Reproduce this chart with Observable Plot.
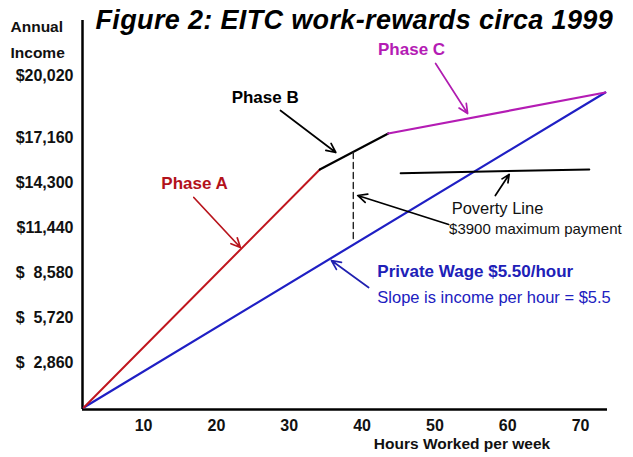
<!DOCTYPE html>
<html>
<head>
<meta charset="utf-8">
<script src="https://cdn.jsdelivr.net/npm/d3@7"></script>
<script src="https://cdn.jsdelivr.net/npm/@observablehq/plot@0.6"></script>
<style>
  html, body { margin: 0; padding: 0; background: #fff; }
  #chart svg text { white-space: pre; }
</style>
</head>
<body>
<div id="chart"></div>
<script>
// ---- Data ----
const titleText = "Figure 2: EITC work-rewards circa 1999";
const yTitleLines = ["Annual", "Income"];
const xTitle = "Hours Worked per week";

const hourTicks = [10, 20, 30, 40, 50, 60, 70];
const incomeTicks = [2860, 5720, 8580, 11440, 14300, 17160];
const incomeTickLabels = ["$ 2,860", "$ 5,720", "$ 8,580", "$11,440", "$14,300", "$17,160"];
const topIncomeTick = [20020];
const topIncomeTickLabel = ["$20,020"];

// series (hours worked per week, annual income)
const phaseAHours = [1.8, 34.2];
const phaseAIncome = [0, 15126];
const phaseBHours = [34.2, 43.6];
const phaseBIncome = [15126, 17414];
const phaseCHours = [43.6, 73.4];
const phaseCIncome = [17414, 20020];
const wageHours = [1.8, 73.4];
const wageIncome = [0, 20020];
const povertyHours = [45.3, 71.2];
const povertyIncome = [14891, 15127];
const maxPaymentHours = [38.8, 38.8];
const maxPaymentIncome = [16207, 10741];

// annotations
const labelNames = ["Phase A", "Phase B", "Phase C", "Poverty Line", "$3900 maximum payment", "Private Wage $5.50/hour", "Slope is income per hour = $5.5"];
const labelHours = [17.0, 26.7, 46.8, 58.6, 63.8, 42.1, 42.1];
const labelIncome = [14237, 19703, 22753, 12648, 11313, 8644, 6991];

const arrowFromHours = [16.9, 28.8, 50.1, 58.3, 51.9, 40.9];
const arrowFromIncome = [13347, 18876, 21864, 13474, 11631, 7627];
const arrowToHours = [23.3, 36.4, 54.5, 60.2, 39.4, 35.8];
const arrowToIncome = [10169, 16207, 18686, 14809, 13474, 9343];
const arrowColors = ["#b8141c", "#000000", "#b01cb0", "#000000", "#000000", "#2020b0"];

// ---- Build tables ----
const toPts = (hs, is) => hs.map((h, i) => ({h, inc: is[i]}));
const labels = labelNames.map((t, i) => ({t, h: labelHours[i], inc: labelIncome[i]}));
const arrows = arrowFromHours.map((h, i) => ({
  x1: h, y1: arrowFromIncome[i], x2: arrowToHours[i], y2: arrowToIncome[i], c: arrowColors[i]
}));
const tickLabelOf = new Map(incomeTicks.map((v, i) => [v, incomeTickLabels[i]]));
const topLabelOf = new Map(topIncomeTick.map((v, i) => [v, topIncomeTickLabel[i]]));

const RED = "#c0161e", BLACK = "#000", MAG = "#b41cb4", BLUE = "#1f1fc4";
const FONT = "'Liberation Sans', Arial, sans-serif";

const chart = Plot.plot({
  width: 633,
  height: 457,
  marginLeft: 82,
  marginRight: 26,
  marginTop: 22,
  marginBottom: 48,
  x: {domain: [1.62, 73.7]},
  y: {domain: [-127, 24469]},
  style: {fontFamily: FONT, background: "#fff", overflow: "visible", color: "#111"},
  marks: [
    // axes frame
    Plot.ruleX([1.62], {y1: -127, y2: 24600, stroke: "#000", strokeWidth: 2.5}),
    Plot.ruleY([-127], {x1: 1.62, x2: 73.7, stroke: "#000", strokeWidth: 2.5}),
    Plot.axisX(hourTicks, {tickSize: 0, tickPadding: 10, fontSize: 16, fontWeight: "bold", label: null, fill: "#111"}),
    Plot.axisY(incomeTicks, {tickSize: 0, tickPadding: 9, fontSize: 16, fontWeight: "bold", label: null, fill: "#111",
      tickFormat: d => tickLabelOf.get(d).replace(" ", "\u2007")}),
    Plot.axisY(topIncomeTick, {tickSize: 0, tickPadding: 9, fontSize: 16, fontWeight: "bold", label: null, fill: "#111",
      dy: -17, tickFormat: d => topLabelOf.get(d)}),
    // titles
    Plot.text([titleText], {frameAnchor: "top-left", textAnchor: "start", lineAnchor: "middle", dx: 13, dy: -2,
      fontSize: 27, fontWeight: "bold", fontStyle: "italic", fill: "#000"}),
    Plot.text([yTitleLines[0]], {frameAnchor: "top-left", textAnchor: "start", lineAnchor: "middle", dx: -72, dy: 5,
      fontSize: 15.5, fontWeight: "bold", fill: "#111"}),
    Plot.text([yTitleLines[1]], {frameAnchor: "top-left", textAnchor: "start", lineAnchor: "middle", dx: -72, dy: 31,
      fontSize: 15.5, fontWeight: "bold", fill: "#111"}),
    Plot.text([xTitle], {frameAnchor: "bottom", textAnchor: "middle", lineAnchor: "middle", dx: 117, dy: 35,
      fontSize: 15.5, fontWeight: "bold", fill: "#111"}),
    // series
    Plot.line(toPts(wageHours, wageIncome), {x: "h", y: "inc", stroke: BLUE, strokeWidth: 2.2}),
    Plot.line(toPts(phaseAHours, phaseAIncome), {x: "h", y: "inc", stroke: RED, strokeWidth: 2}),
    Plot.line(toPts(phaseBHours, phaseBIncome), {x: "h", y: "inc", stroke: BLACK, strokeWidth: 2.2}),
    Plot.line(toPts(phaseCHours, phaseCIncome), {x: "h", y: "inc", stroke: MAG, strokeWidth: 2.2}),
    Plot.line(toPts(povertyHours, povertyIncome), {x: "h", y: "inc", stroke: BLACK, strokeWidth: 2}),
    Plot.line(toPts(maxPaymentHours, maxPaymentIncome), {x: "h", y: "inc", stroke: "#222", strokeWidth: 1.4, strokeDasharray: "6,4"}),
    // annotation arrows
    Plot.arrow(arrows, {x1: "x1", y1: "y1", x2: "x2", y2: "y2", stroke: "c", strokeWidth: 1.7, headLength: 9, headAngle: 50}),
    // annotation labels
    Plot.text(labels.slice(0, 1), {x: "h", y: "inc", text: "t", fill: "#b3121b", fontSize: 17, fontWeight: "bold"}),
    Plot.text(labels.slice(1, 2), {x: "h", y: "inc", text: "t", fill: "#000", fontSize: 17, fontWeight: "bold"}),
    Plot.text(labels.slice(2, 3), {x: "h", y: "inc", text: "t", fill: MAG, fontSize: 17, fontWeight: "bold"}),
    Plot.text(labels.slice(3, 4), {x: "h", y: "inc", text: "t", fill: "#111", fontSize: 16.5}),
    Plot.text(labels.slice(4, 5), {x: "h", y: "inc", text: "t", fill: "#111", fontSize: 15}),
    Plot.text(labels.slice(5, 6), {x: "h", y: "inc", text: "t", fill: "#2020b8", fontSize: 17, fontWeight: "bold", textAnchor: "start"}),
    Plot.text(labels.slice(6, 7), {x: "h", y: "inc", text: "t", fill: "#2020c0", fontSize: 16.5, textAnchor: "start"})
  ]
});
d3.select(chart).selectAll("text").filter(function() { return this.textContent === titleText; })
  .style("letter-spacing", "0.35px");
document.getElementById("chart").appendChild(chart);
</script>
</body>
</html>
